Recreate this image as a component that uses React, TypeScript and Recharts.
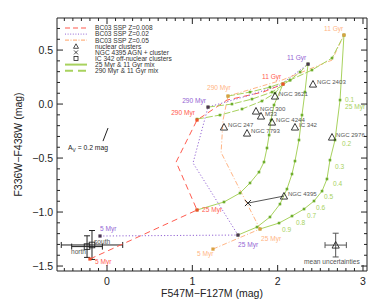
import React from "react";
import { ScatterChart, Scatter, XAxis, YAxis, ErrorBar, Legend } from "recharts";

type Pt = { x: number; y: number; age?: string };

// BC03 SSP tracks, 5 Myr -> 11 Gyr
const sspZ008: Pt[] = [
  { x: -0.2, y: -1.435, age: "5 Myr" },
  { x: 1.055, y: -0.981, age: "25 Myr" },
  { x: 0.81, y: -0.537 },
  { x: 1.055, y: -0.148, age: "290 Myr" },
  { x: 1.406, y: 0.037 },
  { x: 1.828, y: 0.111 },
  { x: 2.063, y: 0.185, age: "11 Gyr" },
];
const sspZ02: Pt[] = [
  { x: -0.082, y: -1.222, age: "5 Myr" },
  { x: 1.535, y: -1.213, age: "25 Myr" },
  { x: 1.207, y: -0.796 },
  { x: 1.008, y: -0.546 },
  { x: 1.184, y: -0.028, age: "290 Myr" },
  { x: 1.676, y: 0.083 },
  { x: 2.027, y: 0.176 },
  { x: 2.356, y: 0.37, age: "11 Gyr" },
];
const sspZ05: Pt[] = [
  { x: 1.242, y: -1.343, age: "5 Myr" },
  { x: 1.793, y: -1.157, age: "25 Myr" },
  { x: 1.559, y: -0.796 },
  { x: 1.337, y: -0.448 },
  { x: 1.36, y: -0.148 },
  { x: 1.418, y: 0.074, age: "290 Myr" },
  { x: 2.051, y: 0.222 },
  { x: 2.637, y: 0.407 },
  { x: 2.777, y: 0.639, age: "11 Gyr" },
];

// 25 Myr & 11 Gyr mixes (mass fraction 0.9 ... 0.1 of the young part)
const mix25Z008: Pt[] = [
  { x: 1.055, y: -0.981 },
  { x: 1.371, y: -0.907 },
  { x: 1.559, y: -0.824 },
  { x: 1.676, y: -0.731 },
  { x: 1.781, y: -0.63 },
  { x: 1.84, y: -0.537 },
  { x: 1.875, y: -0.407 },
  { x: 1.9, y: -0.287 },
  { x: 1.922, y: -0.148 },
  { x: 1.957, y: -0.009 },
  { x: 2.063, y: 0.185 },
];
const mix25Z02: Pt[] = [
  { x: 1.535, y: -1.213 },
  { x: 1.758, y: -1.139 },
  { x: 1.91, y: -1.046 },
  { x: 2.027, y: -0.926 },
  { x: 2.109, y: -0.787 },
  { x: 2.168, y: -0.648 },
  { x: 2.203, y: -0.528 },
  { x: 2.25, y: -0.333 },
  { x: 2.285, y: -0.102 },
  { x: 2.32, y: 0.111 },
  { x: 2.356, y: 0.37 },
];
const mix25Z05: Pt[] = [
  { x: 1.793, y: -1.157 },
  { x: 2.016, y: -1.102 },
  { x: 2.168, y: -1.037 },
  { x: 2.309, y: -0.972 },
  { x: 2.426, y: -0.898 },
  { x: 2.52, y: -0.806 },
  { x: 2.578, y: -0.694 },
  { x: 2.613, y: -0.519 },
  { x: 2.672, y: -0.333 },
  { x: 2.731, y: 0.037 },
  { x: 2.777, y: 0.639 },
];

// 290 Myr & 11 Gyr mixes
const mix290Z008: Pt[] = [
  { x: 1.055, y: -0.139 },
  { x: 1.324, y: -0.102 },
  { x: 1.582, y: -0.046 },
  { x: 1.816, y: 0.028 },
  { x: 1.969, y: 0.102 },
  { x: 2.063, y: 0.185 },
];
const mix290Z02: Pt[] = [
  { x: 1.184, y: -0.028 },
  { x: 1.465, y: 0.0 },
  { x: 1.699, y: 0.046 },
  { x: 1.934, y: 0.111 },
  { x: 2.145, y: 0.222 },
  { x: 2.262, y: 0.296 },
  { x: 2.356, y: 0.37 },
];
const mix290Z05: Pt[] = [
  { x: 1.418, y: 0.074 },
  { x: 1.676, y: 0.111 },
  { x: 1.91, y: 0.157 },
  { x: 2.145, y: 0.222 },
  { x: 2.402, y: 0.315 },
  { x: 2.637, y: 0.426 },
  { x: 2.777, y: 0.639 },
];

const nuclearClusters = [
  { name: "NGC 3621", x: 1.969, y: 0.074 },
  { name: "NGC 2403", x: 2.414, y: 0.185 },
  { name: "NGC 300", x: 1.746, y: -0.065 },
  { name: "M33", x: 1.805, y: -0.111 },
  { name: "NGC 4244", x: 1.934, y: -0.167 },
  { name: "IC 342", x: 2.203, y: -0.213 },
  { name: "NGC 247", x: 1.371, y: -0.213 },
  { name: "NGC 7793", x: 1.641, y: -0.269 },
  { name: "NGC 2976", x: 2.637, y: -0.306 },
  { name: "NGC 4395", x: 2.074, y: -0.852 },
];
const agnCluster = [{ x: 1.652, y: -0.917 }];
const agnLink = [agnCluster[0], nuclearClusters[9]];

const ic342OffNuclear = [
  { name: "south", x: -0.176, y: -1.305, ex: 0.36, ey: 0.134 },
  { name: "north", x: -0.234, y: -1.32, ex: 0.18, ey: 0.1 },
];
const meanUncertainty = [{ x: 2.68, y: -1.306, ex: 0.125, ey: 0.11 }];
const avVector = [
  { x: -0.047, y: -0.343 },
  { x: 0.012, y: -0.222 },
];

// text annotations, anchored in data units
const ageLabels = [
  { text: "5 Myr", x: -0.141, y: -1.481, c: "red" },
  { text: "5 Myr", x: -0.082, y: -1.176, c: "purple" },
  { text: "5 Myr", x: 1.055, y: -1.407, c: "orange" },
  { text: "25 Myr", x: 1.113, y: -1.0, c: "red" },
  { text: "25 Myr", x: 1.535, y: -1.324, c: "purple" },
  { text: "25 Myr", x: 1.805, y: -1.269, c: "orange" },
  { text: "290 Myr", x: 1.031, y: -0.102, c: "red", end: true },
  { text: "290 Myr", x: 1.16, y: 0.009, c: "purple", end: true },
  { text: "290 Myr", x: 1.172, y: 0.13, c: "orange" },
  { text: "11 Gyr", x: 1.816, y: 0.231, c: "red" },
  { text: "11 Gyr", x: 2.109, y: 0.407, c: "purple" },
  { text: "11 Gyr", x: 2.543, y: 0.676, c: "orange" },
];
const fractionLabels = [
  { text: "0.1", x: 2.789, y: 0.019 },
  { text: "25 Myr", x: 2.789, y: -0.046 },
  { text: "0.2", x: 2.754, y: -0.389 },
  { text: "0.3", x: 2.672, y: -0.602 },
  { text: "0.4", x: 2.649, y: -0.759 },
  { text: "0.5", x: 2.543, y: -0.88 },
  { text: "0.6", x: 2.449, y: -0.981 },
  { text: "0.7", x: 2.344, y: -1.056 },
  { text: "0.8", x: 2.215, y: -1.12 },
  { text: "0.9", x: 2.051, y: -1.185 },
];
const otherLabels = [
  { text: "south", x: -0.152, y: -1.296 },
  { text: "north", x: -0.422, y: -1.389 },
  { text: "mean uncertainties", x: 2.309, y: -1.481 },
];
const avLabel = [{ x: -0.457, y: -0.426 }];

const xTicks = Array.from({ length: 36 }, (_, i) => +(-0.5 + i * 0.1).toFixed(1));
const yTicks = Array.from({ length: 23 }, (_, i) => +(-1.5 + i * 0.1).toFixed(1));

const FONT = "'Liberation Sans', Arial, sans-serif";
const AXIS = "#222";
const GRAY = "#555";
const COLORS: Record<string, string> = {
  red: "#ff5b4f",
  purple: "#9466d4",
  orange: "#ffb585",
  green: "#a8d25e",
};
const MARK: Record<string, string> = {
  red: "#f0502a",
  purple: "#4a3550",
  orange: "#d9a040",
};
const GREEN_DOT = "#6fae2e";

const isMajor = (v: number, step: number) => Math.abs(v / step - Math.round(v / step)) < 1e-6;

const BottomTick = ({ x, y, payload }: any) => {
  const major = isMajor(payload.value, 1);
  return (
    <g>
      <line x1={x} x2={x} y1={y} y2={y - (major ? 6 : 3)} stroke={AXIS} />
      {major && (
        <text x={x} y={y + 14} textAnchor="middle" fontSize={10.5} fill={AXIS} fontFamily={FONT}>
          {Math.round(payload.value)}
        </text>
      )}
    </g>
  );
};
const TopTick = ({ x, y, payload }: any) => (
  <line x1={x} x2={x} y1={y} y2={y + (isMajor(payload.value, 1) ? 6 : 3)} stroke={AXIS} />
);
const LeftTick = ({ x, y, payload }: any) => {
  const major = isMajor(payload.value, 0.5);
  return (
    <g>
      <line x1={x} x2={x + (major ? 6 : 3)} y1={y} y2={y} stroke={AXIS} />
      {major && (
        <text x={x - 4} y={y} dy={3.8} textAnchor="end" fontSize={10.5} fill={AXIS} fontFamily={FONT}>
          {payload.value.toFixed(1).replace("-", "\u2212")}
        </text>
      )}
    </g>
  );
};
const RightTick = ({ x, y, payload }: any) => (
  <line x1={x} x2={x - (isMajor(payload.value, 0.5) ? 6 : 3)} y1={y} y2={y} stroke={AXIS} />
);

const noShape = () => <g />;
const mixDot = ({ cx, cy }: any) => <rect x={cx - 1.3} y={cy - 1.3} width={2.6} height={2.6} fill={GREEN_DOT} />;
const ageMark = (c: string) => ({ cx, cy }: any) => (
  <rect x={cx - 1.6} y={cy - 1.6} width={3.2} height={3.2} fill={MARK[c]} />
);
const triangle = ({ cx, cy, payload }: any) => (
  <g>
    <path d={`M${cx - 3.6},${cy + 3}L${cx + 3.6},${cy + 3}L${cx},${cy - 3.6}Z`} fill="none" stroke={AXIS} strokeWidth={0.9} />
    <text x={cx + 4} y={cy} fontSize={6.1} fill={GRAY} fontFamily={FONT}>
      {payload.name}
    </text>
  </g>
);
const cross = ({ cx, cy }: any) => (
  <path d={`M${cx - 3},${cy - 3}L${cx + 3},${cy + 3}M${cx - 3},${cy + 3}L${cx + 3},${cy - 3}`} stroke={AXIS} strokeWidth={1} />
);
const square = ({ cx, cy }: any) => (
  <rect x={cx - 2.8} y={cy - 2.8} width={5.6} height={5.6} fill="none" stroke={AXIS} strokeWidth={0.9} />
);
const plainTriangle = ({ cx, cy }: any) => (
  <path d={`M${cx - 3.6},${cy + 3}L${cx + 3.6},${cy + 3}L${cx},${cy - 3.6}Z`} fill="none" stroke={AXIS} strokeWidth={0.9} />
);
const textShape = (color?: string) => ({ cx, cy, payload }: any) => (
  <text
    x={cx}
    y={cy}
    fontSize={6.6}
    textAnchor={payload.end ? "end" : "start"}
    fill={color || COLORS[payload.c] || GRAY}
    fontFamily={FONT}
  >
    {payload.text}
  </text>
);
const avText = ({ cx, cy }: any) => (
  <text x={cx} y={cy} fontSize={6.8} fill={AXIS} fontFamily={FONT}>
    A<tspan fontSize={4.8} dy={1.5}>V</tspan>
    <tspan dy={-1.5}> = 0.2 mag</tspan>
  </text>
);

const legendRows = [
  { label: "BC03 SSP Z=0.008", stroke: COLORS.red, dash: "5 3", w: 1.2 },
  { label: "BC03 SSP Z=0.02", stroke: COLORS.purple, dash: "1 1.6", w: 1 },
  { label: "BC03 SSP Z=0.05", stroke: COLORS.orange, dash: "4 1.5 1 1.5", w: 1.2 },
  { label: "nuclear clusters", sym: "tri" },
  { label: "NGC 4395 AGN + cluster", sym: "x" },
  { label: "IC 342 off-nuclear clusters", sym: "sq" },
  { label: "25 Myr & 11 Gyr mix", stroke: COLORS.green, dash: undefined, w: 2 },
  { label: "290 Myr & 11 Gyr mix", stroke: COLORS.green, dash: "8 5", w: 2 },
];

const LegendBox = () => (
  <svg width={140} height={56} style={{ display: "block" }}>
    {legendRows.map((r, i) => {
      const y = 6 + i * 6.1;
      let mark: React.ReactNode = null;
      if (r.sym === "tri")
        mark = <path d={`M13.5,${y + 2}L18.5,${y + 2}L16,${y - 2.5}Z`} fill="none" stroke={AXIS} strokeWidth={0.8} />;
      else if (r.sym === "x")
        mark = <path d={`M14,${y - 2}L18,${y + 2}M14,${y + 2}L18,${y - 2}`} stroke={AXIS} strokeWidth={0.8} />;
      else if (r.sym === "sq")
        mark = <rect x={14} y={y - 2} width={4} height={4} fill="none" stroke={AXIS} strokeWidth={0.8} />;
      else
        mark = <line x1={5} x2={27} y1={y} y2={y} stroke={r.stroke} strokeWidth={r.w} strokeDasharray={r.dash} />;
      return (
        <g key={r.label}>
          {mark}
          <text x={35} y={y + 2.3} fontSize={6.6} fill="#333" fontFamily={FONT}>
            {r.label}
          </text>
        </g>
      );
    })}
  </svg>
);

const XTitle = ({ viewBox }: any) => (
  <text x={viewBox.x + viewBox.width / 2} y={viewBox.y + 25.5} textAnchor="middle" fontSize={10.5} fill={AXIS} fontFamily={FONT}>
    F547M{"\u2212"}F127M (mag)
  </text>
);
const YTitle = ({ viewBox }: any) => {
  const x = viewBox.x + viewBox.width - 39;
  const y = viewBox.y + viewBox.height / 2;
  return (
    <text x={x} y={y} transform={`rotate(-90, ${x}, ${y})`} textAnchor="middle" dy={3.5} fontSize={10.5} fill={AXIS} fontFamily={FONT}>
      F336W{"\u2212"}F438W (mag)
    </text>
  );
};

const X_DOMAIN: [number, number] = [-0.586, 3.047];
const Y_DOMAIN: [number, number] = [-1.546, 0.797];

export default function App() {
  const lineSeries = (data: Pt[], stroke: string, dash?: string, w = 1, dots = false) => ({
    data,
    line: { stroke, strokeWidth: w, strokeDasharray: dash },
    shape: dots ? mixDot : noShape,
  });
  const curves = [
    lineSeries(sspZ008, COLORS.red, "6 4", 1),
    lineSeries(sspZ02, COLORS.purple, "1.2 2", 1),
    lineSeries(sspZ05, COLORS.orange, "5 2 1 2", 1),
    lineSeries(mix25Z008, COLORS.green, undefined, 1, true),
    lineSeries(mix25Z02, COLORS.green, undefined, 1, true),
    lineSeries(mix25Z05, COLORS.green, undefined, 1, true),
    lineSeries(mix290Z008, COLORS.green, "7 2", 1, true),
    lineSeries(mix290Z02, COLORS.green, "7 2", 1, true),
    lineSeries(mix290Z05, COLORS.green, "7 2", 1, true),
  ];
  const ssps: [Pt[], string][] = [
    [sspZ008, "red"],
    [sspZ02, "purple"],
    [sspZ05, "orange"],
  ];

  return (
    <div style={{ position: "absolute", left: 0, top: 0, width: 384, height: 307, background: "#fff" }}>
      <ScatterChart width={384} height={307} margin={{ top: 17, right: 16, bottom: 35, left: 56 }}>
        <XAxis
          type="number"
          dataKey="x"
          domain={X_DOMAIN}
          allowDataOverflow
          ticks={xTicks}
          interval={0}
          tick={BottomTick}
          tickSize={0}
          tickMargin={0}
          tickLine={false}
          height={1}
          axisLine={{ stroke: AXIS }}
          label={{ content: XTitle }}
        />
        <XAxis
          xAxisId="top"
          orientation="top"
          type="number"
          dataKey="x"
          domain={X_DOMAIN}
          allowDataOverflow
          ticks={xTicks}
          interval={0}
          tick={TopTick}
          tickSize={0}
          tickMargin={0}
          tickLine={false}
          height={1}
          axisLine={{ stroke: AXIS }}
        />
        <YAxis
          type="number"
          dataKey="y"
          domain={Y_DOMAIN}
          allowDataOverflow
          ticks={yTicks}
          interval={0}
          tick={LeftTick}
          tickSize={0}
          tickMargin={0}
          tickLine={false}
          width={1}
          axisLine={{ stroke: AXIS }}
          label={{ content: YTitle }}
        />
        <YAxis
          yAxisId="right"
          orientation="right"
          type="number"
          dataKey="y"
          domain={Y_DOMAIN}
          allowDataOverflow
          ticks={yTicks}
          interval={0}
          tick={RightTick}
          tickSize={0}
          tickMargin={0}
          tickLine={false}
          width={1}
          axisLine={{ stroke: AXIS }}
        />
        <Legend
          layout="horizontal"
          verticalAlign="middle"
          align="center"
          content={LegendBox}
          wrapperStyle={{ position: "absolute", left: 60, top: 22, width: 140, height: 56 }}
        />

        {curves.map((c, i) => (
          <Scatter key={`c${i}`} data={c.data} line={c.line} shape={c.shape} fill="none" isAnimationActive={false} legendType="none" />
        ))}
        {ssps.map(([data, c]) => (
          <Scatter
            key={`m${c}`}
            data={data.filter((p) => p.age)}
            shape={ageMark(c)}
            isAnimationActive={false}
            legendType="none"
          />
        ))}

        <Scatter data={agnLink} line={{ stroke: GRAY, strokeWidth: 1 }} shape={noShape} isAnimationActive={false} legendType="none" />
        <Scatter data={avVector} line={{ stroke: AXIS, strokeWidth: 1 }} shape={noShape} isAnimationActive={false} legendType="none" />
        <Scatter data={nuclearClusters} shape={triangle} isAnimationActive={false} legendType="none" />
        <Scatter data={agnCluster} shape={cross} isAnimationActive={false} legendType="none" />
        <Scatter data={ic342OffNuclear} shape={square} isAnimationActive={false} legendType="none">
          <ErrorBar dataKey="ex" direction="x" width={3} stroke={AXIS} strokeWidth={1} />
          <ErrorBar dataKey="ey" direction="y" width={3} stroke={AXIS} strokeWidth={1} />
        </Scatter>
        <Scatter data={meanUncertainty} shape={plainTriangle} isAnimationActive={false} legendType="none">
          <ErrorBar dataKey="ex" direction="x" width={3} stroke={GRAY} strokeWidth={1} />
          <ErrorBar dataKey="ey" direction="y" width={3} stroke={GRAY} strokeWidth={1} />
        </Scatter>

        <Scatter data={ageLabels} shape={textShape()} isAnimationActive={false} legendType="none" />
        <Scatter data={fractionLabels} shape={textShape(COLORS.green)} isAnimationActive={false} legendType="none" />
        <Scatter data={otherLabels} shape={textShape(GRAY)} isAnimationActive={false} legendType="none" />
        <Scatter data={avLabel} shape={avText} isAnimationActive={false} legendType="none" />
      </ScatterChart>
    </div>
  );
}
